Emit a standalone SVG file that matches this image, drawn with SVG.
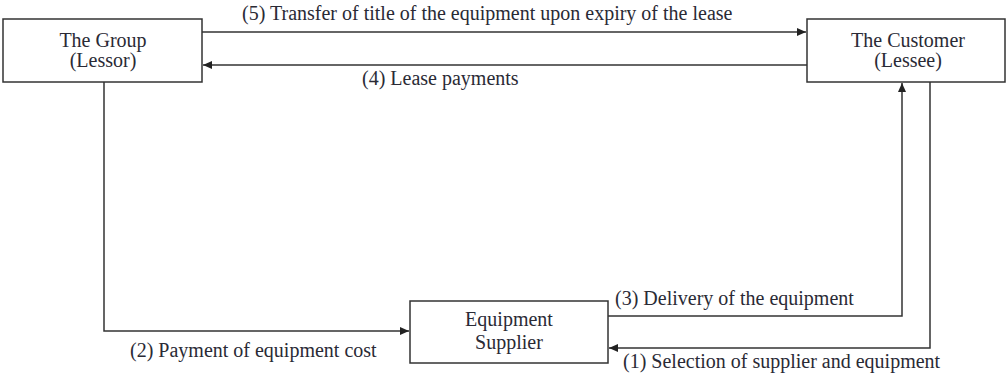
<svg xmlns="http://www.w3.org/2000/svg" width="1007" height="376" viewBox="0 0 1007 376">
<style>
.box{fill:#fff;stroke:#333;stroke-width:1.5}
.ln{fill:none;stroke:#333;stroke-width:1.5}
.c{text-anchor:middle}
</style>
<defs>
<marker id="ah" viewBox="0 0 10 10" refX="10" refY="5" markerWidth="9" markerHeight="8" markerUnits="userSpaceOnUse" orient="auto" preserveAspectRatio="none">
<path d="M0,0 L10,5 L0,10 z" fill="#222"/>
</marker>
</defs>
<rect width="1007" height="376" fill="#fff"/>
<g font-family="Liberation Serif, Times New Roman, serif" font-size="20" fill="#2a2a35">
<g id="connectors">
<path class="ln" d="M202,32 H806" marker-end="url(#ah)"/>
<path class="ln" d="M807,65 H203" marker-end="url(#ah)"/>
<path class="ln" d="M104,82 V331 H409" marker-end="url(#ah)"/>
<path class="ln" d="M608,316 H902 V83" marker-end="url(#ah)"/>
<path class="ln" d="M930,82 V348 H609" marker-end="url(#ah)"/>
<text x="242" y="20">(5) Transfer of title of the equipment upon expiry of the lease</text>
<text x="362" y="85">(4) Lease payments</text>
<text x="130" y="357">(2) Payment of equipment cost</text>
<text x="615" y="305">(3) Delivery of the equipment</text>
<text x="623" y="368">(1) Selection of supplier and equipment</text>
</g>
<g id="group">
<rect class="box" x="3" y="19" width="199" height="63"/>
<text class="c" x="103" y="47">The Group</text>
<text class="c" x="103" y="67">(Lessor)</text>
</g>
<g id="customer">
<rect class="box" x="807" y="19" width="198" height="63"/>
<text class="c" x="908" y="47">The Customer</text>
<text class="c" x="908" y="67">(Lessee)</text>
</g>
<g id="supplier">
<rect class="box" x="410" y="301" width="198" height="62"/>
<text class="c" x="509" y="326">Equipment</text>
<text class="c" x="509" y="349">Supplier</text>
</g>
</g>
</svg>
